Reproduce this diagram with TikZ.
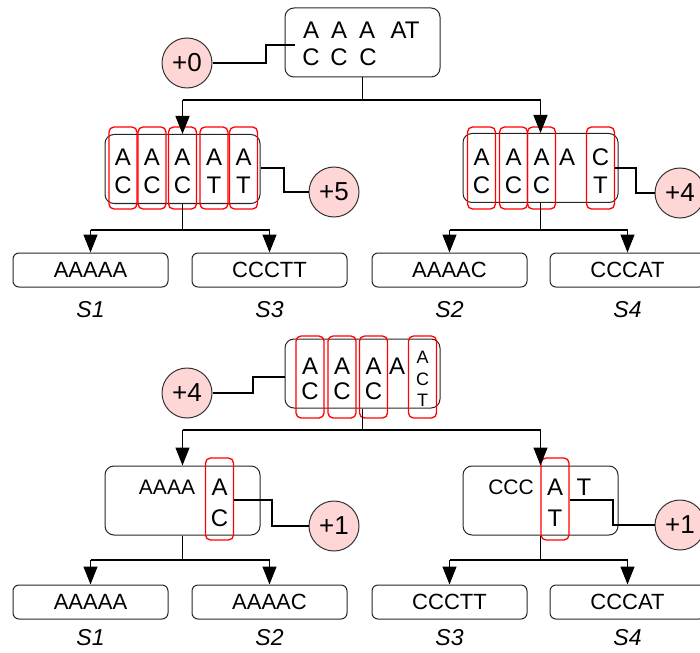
\documentclass[tikz,border=0pt]{standalone}
\usepackage{fontspec}
\setmainfont{Liberation Sans}
\usetikzlibrary{arrows.meta}
\definecolor{cpink}{HTML}{FFD6D6}
\tikzset{
  box/.style={draw=black!85, line width=1pt, rounded corners=9pt, minimum width=155pt, minimum height=69pt, inner sep=0pt},
  redcol/.style={draw=red, line width=1.3pt, rounded corners=5pt, minimum width=28pt, minimum height=82pt, inner sep=0pt},
  circ/.style={circle, draw=black!80, line width=1pt, fill=cpink, minimum size=50pt, inner sep=0pt, font=\fontsize{26}{30}\selectfont},
  leaf/.style={draw=black!85, line width=1pt, rounded corners=6pt, minimum width=155pt, minimum height=34pt, inner sep=0pt, font=\fontsize{22}{26}\selectfont},
  lbl/.style={font=\fontsize{23}{27}\selectfont\itshape},
  ch/.style={inner sep=0pt, font=\fontsize{24}{28}\selectfont},
  chw/.style={inner sep=0pt, font=\fontsize{21}{25}\selectfont},
  chs/.style={inner sep=0pt, font=\fontsize{18}{21}\selectfont},
  conn/.style={line width=1.2pt, black},
  arr/.style={line width=1.2pt, black, -{Triangle[width=14pt,length=18pt]}},
}
\begin{document}
\begin{tikzpicture}[x=1pt,y=-1pt]
\useasboundingbox (0,0) rectangle (700,652);
% ===== top half =====
\node[box] (top) at (362.5,42.5) {};
\node[ch] (t1) at (311,30) {A};
\node[ch] (t2) at (339,30) {A};
\node[ch] (t3) at (367,30) {A};
\node[ch] (t4) at (405,30) {AT};
\node[ch] (t5) at (311,57) {C};
\node[ch] (t6) at (339,57) {C};
\node[ch] (t7) at (368,57) {C};
\node[circ] (c0) at (187,63) {+0};
\coordinate (t0in) at (295,45);
\draw[conn] (c0.east) -- (266,63) -- (266,45) -- (t0in);

% level 1 left
\node[box] (L1) at (182.5,169) {};
\foreach \x/\a/\b [count=\i] in {123/A/C,152/A/C,182.5/A/C,214/A/T,243.5/A/T}{
  \node[redcol] (la\i) at (\x,168) {};
  \node[ch] at (\x,157) {\a};
  \node[ch] at (\x,185) {\b};
}
\node[circ] (c5) at (334,192) {+5};
\draw[conn] (L1.east |- 0,168) -- (284,168) -- (284,192) -- (c5.west);

% level 1 right
\node[box] (R1) at (540.5,168) {};
\foreach \x/\a/\b [count=\i] in {481.5/A/C,513.5/A/C,541.5/A/C,600.5/C/T}{
  \node[redcol] (ra\i) at (\x,168) {};
  \node[ch] at (\x,157) {\a};
  \node[ch] at (\x,185) {\b};
}
\node[ch] (rA) at (567,157) {A};
\node[circ] (c4a) at (680,193) {+4};
\draw[conn] (ra4.east) -- (636,168) -- (636,193) -- (c4a.west);

% edges from top
\coordinate (tb) at (362.5,100);
\draw[conn] (top.south) -- (tb);
\draw[conn] (182.5,100) -- (540.5,100);
\draw[arr] (182.5,100) -- (L1.north);
\draw[arr] (540.5,100) -- (R1.north);

% leaves row 1
\node[leaf] (s1a) at (90.5,270) {AAAAA};
\node[leaf] (s3a) at (269.5,270) {CCCTT};
\node[leaf] (s2a) at (449.5,270) {AAAAC};
\node[leaf] (s4a) at (627.5,270) {CCCAT};
\node[lbl] at (90.5,310) {S1};
\node[lbl] at (269.5,310) {S3};
\node[lbl] at (449.5,310) {S2};
\node[lbl] at (627.5,310) {S4};
\draw[conn] (L1.south) -- (182.5,230);
\draw[conn] (90.5,230) -- (269.5,230);
\draw[arr] (90.5,230) -- (s1a.north);
\draw[arr] (269.5,230) -- (s3a.north);
\draw[conn] (R1.south) -- (540.5,230);
\draw[conn] (449.5,230) -- (627.5,230);
\draw[arr] (449.5,230) -- (s2a.north);
\draw[arr] (627.5,230) -- (s4a.north);

% ===== bottom half =====
\node[box] (mid) at (362.5,373.5) {};
\foreach \x [count=\i] in {310,342,373.5}{
  \node[redcol] (ma\i) at (\x,377) {};
  \node[ch] at (\x,366) {A};
  \node[ch] at (\x,391) {C};
}
\node[ch] (mA) at (397,366) {A};
\node[redcol] (ma4) at (422.5,377) {};
\node[chs] at (422.5,357) {A};
\node[chs] at (422.5,379) {C};
\node[chs] at (422.5,400) {T};
\node[circ] (c4b) at (187,393) {+4};
\draw[conn] (c4b.east) -- (253,393) -- (253,377) -- (mid.west |- 0,377);

% level 2 left
\node[box] (L2) at (182.5,500.5) {};
\node[chw] (aaaa) at (167,487) {AAAA};
\node[redcol] (lb) at (219.5,499) {};
\node[ch] at (219.5,487) {A};
\node[ch] at (219.5,518) {C};
\node[circ] (c1a) at (334,526) {+1};
\draw[conn] (lb.east |- 0,500) -- (272,500) -- (272,526) -- (c1a.west);

% level 2 right
\node[box] (R2) at (540.5,500.5) {};
\node[chw] (ccc) at (511,487) {CCC};
\node[redcol] (rb) at (555,499) {};
\node[ch] at (555,487) {A};
\node[ch] at (555,518) {T};
\node[ch] (rT) at (584,487) {T};
\node[circ] (c1b) at (680,525) {+1};
\draw[conn] (rb.east |- 0,500) -- (613,500) -- (613,525) -- (c1b.west);

% edges from mid
\draw[conn] (mid.south) -- (362.5,430);
\draw[conn] (182.5,430) -- (540.5,430);
\draw[arr] (182.5,430) -- (L2.north);
\draw[arr] (540.5,430) -- (R2.north);

% leaves row 2
\node[leaf] (s1b) at (90.5,602) {AAAAA};
\node[leaf] (s2b) at (269.5,602) {AAAAC};
\node[leaf] (s3b) at (449.5,602) {CCCTT};
\node[leaf] (s4b) at (627.5,602) {CCCAT};
\node[lbl] at (90.5,638) {S1};
\node[lbl] at (269.5,638) {S2};
\node[lbl] at (449.5,638) {S3};
\node[lbl] at (627.5,638) {S4};
\draw[conn] (L2.south) -- (182.5,560);
\draw[conn] (90.5,560) -- (269.5,560);
\draw[arr] (90.5,560) -- (s1b.north);
\draw[arr] (269.5,560) -- (s2b.north);
\draw[conn] (R2.south) -- (540.5,560);
\draw[conn] (449.5,560) -- (627.5,560);
\draw[arr] (449.5,560) -- (s3b.north);
\draw[arr] (627.5,560) -- (s4b.north);
\end{tikzpicture}
\end{document}
